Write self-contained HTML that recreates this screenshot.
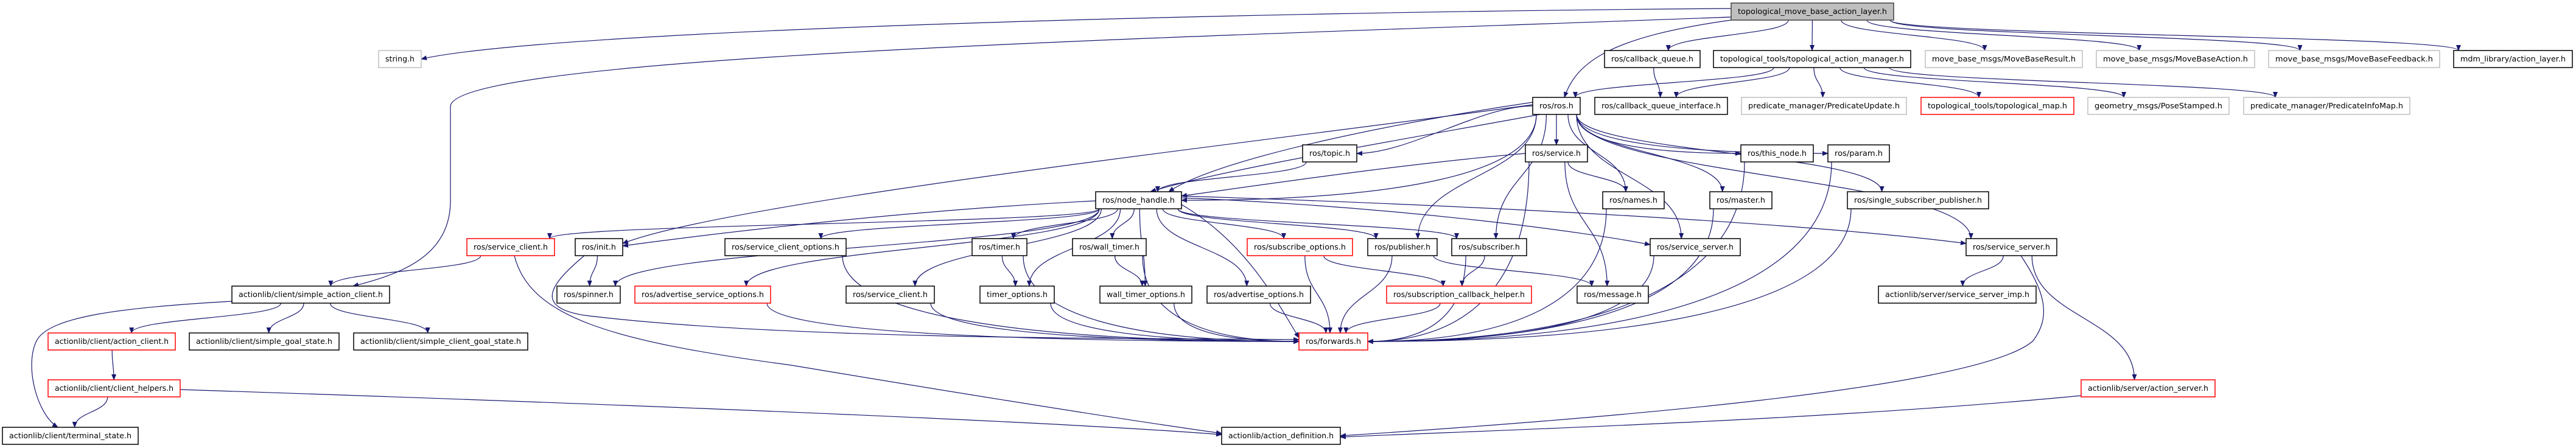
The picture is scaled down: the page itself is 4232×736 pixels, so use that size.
<!DOCTYPE html>
<html><head><meta charset="utf-8"><style>html,body{margin:0;padding:0;background:#fff}svg{display:block}</style></head>
<body>
<svg id="g" width="4232" height="736" viewBox="0 0 4232 736" xmlns="http://www.w3.org/2000/svg" font-family="DejaVu Sans, Liberation Sans, sans-serif" font-size="12">
<defs><marker id="a" markerWidth="10" markerHeight="8" refX="9" refY="4" orient="auto" markerUnits="userSpaceOnUse"><polygon points="0,0 10,4 0,8" fill="#191970"/></marker></defs>
<g id="edges" fill="none" stroke="#191970" stroke-width="1.2"></g>
<g id="nodes" stroke-width="1.5">
<rect x="2844" y="5" width="267" height="28" fill="#bfbfbf" stroke="#404040"/><text x="2977.5" y="23" text-anchor="middle" textLength="245" lengthAdjust="spacingAndGlyphs">topological_move_base_action_layer.h</text>
<rect x="622" y="83" width="70" height="28" fill="#fff" stroke="#bfbfbf"/><text x="657" y="101" text-anchor="middle" textLength="48" lengthAdjust="spacingAndGlyphs">string.h</text>
<rect x="2636" y="83" width="157" height="28" fill="#fff" stroke="#000"/><text x="2714.5" y="101" text-anchor="middle" textLength="135" lengthAdjust="spacingAndGlyphs">ros/callback_queue.h</text>
<rect x="2815" y="83" width="324" height="28" fill="#fff" stroke="#000"/><text x="2977" y="101" text-anchor="middle" textLength="302" lengthAdjust="spacingAndGlyphs">topological_tools/topological_action_manager.h</text>
<rect x="3163" y="83" width="258" height="28" fill="#fff" stroke="#bfbfbf"/><text x="3292" y="101" text-anchor="middle" textLength="236" lengthAdjust="spacingAndGlyphs">move_base_msgs/MoveBaseResult.h</text>
<rect x="3444" y="83" width="260" height="28" fill="#fff" stroke="#bfbfbf"/><text x="3574" y="101" text-anchor="middle" textLength="238" lengthAdjust="spacingAndGlyphs">move_base_msgs/MoveBaseAction.h</text>
<rect x="3727" y="83" width="281" height="28" fill="#fff" stroke="#bfbfbf"/><text x="3867.5" y="101" text-anchor="middle" textLength="259" lengthAdjust="spacingAndGlyphs">move_base_msgs/MoveBaseFeedback.h</text>
<rect x="4031" y="83" width="195" height="28" fill="#fff" stroke="#000"/><text x="4128.5" y="101" text-anchor="middle" textLength="173" lengthAdjust="spacingAndGlyphs">mdm_library/action_layer.h</text>
<rect x="2518" y="160" width="78" height="28" fill="#fff" stroke="#000"/><text x="2557" y="178" text-anchor="middle" textLength="56" lengthAdjust="spacingAndGlyphs">ros/ros.h</text>
<rect x="2620" y="160" width="218" height="28" fill="#fff" stroke="#000"/><text x="2729" y="178" text-anchor="middle" textLength="196" lengthAdjust="spacingAndGlyphs">ros/callback_queue_interface.h</text>
<rect x="2861" y="160" width="271" height="28" fill="#fff" stroke="#bfbfbf"/><text x="2996.5" y="178" text-anchor="middle" textLength="249" lengthAdjust="spacingAndGlyphs">predicate_manager/PredicateUpdate.h</text>
<rect x="3156" y="160" width="251" height="28" fill="#fff" stroke="#ff0000"/><text x="3281.5" y="178" text-anchor="middle" textLength="229" lengthAdjust="spacingAndGlyphs">topological_tools/topological_map.h</text>
<rect x="3430" y="160" width="232" height="28" fill="#fff" stroke="#bfbfbf"/><text x="3546" y="178" text-anchor="middle" textLength="210" lengthAdjust="spacingAndGlyphs">geometry_msgs/PoseStamped.h</text>
<rect x="3686" y="160" width="273" height="28" fill="#fff" stroke="#bfbfbf"/><text x="3822.5" y="178" text-anchor="middle" textLength="251" lengthAdjust="spacingAndGlyphs">predicate_manager/PredicateInfoMap.h</text>
<rect x="2140" y="238" width="89" height="28" fill="#fff" stroke="#000"/><text x="2184.5" y="256" text-anchor="middle" textLength="67" lengthAdjust="spacingAndGlyphs">ros/topic.h</text>
<rect x="2506" y="238" width="102" height="28" fill="#fff" stroke="#000"/><text x="2557" y="256" text-anchor="middle" textLength="80" lengthAdjust="spacingAndGlyphs">ros/service.h</text>
<rect x="2860" y="238" width="119" height="28" fill="#fff" stroke="#000"/><text x="2919.5" y="256" text-anchor="middle" textLength="97" lengthAdjust="spacingAndGlyphs">ros/this_node.h</text>
<rect x="3003" y="238" width="101" height="28" fill="#fff" stroke="#000"/><text x="3053.5" y="256" text-anchor="middle" textLength="79" lengthAdjust="spacingAndGlyphs">ros/param.h</text>
<rect x="1800" y="315" width="141" height="28" fill="#fff" stroke="#000"/><text x="1870.5" y="333" text-anchor="middle" textLength="119" lengthAdjust="spacingAndGlyphs">ros/node_handle.h</text>
<rect x="2633" y="315" width="101" height="28" fill="#fff" stroke="#000"/><text x="2683.5" y="333" text-anchor="middle" textLength="79" lengthAdjust="spacingAndGlyphs">ros/names.h</text>
<rect x="2809" y="315" width="102" height="28" fill="#fff" stroke="#000"/><text x="2860" y="333" text-anchor="middle" textLength="80" lengthAdjust="spacingAndGlyphs">ros/master.h</text>
<rect x="3035" y="315" width="232" height="28" fill="#fff" stroke="#000"/><text x="3151" y="333" text-anchor="middle" textLength="210" lengthAdjust="spacingAndGlyphs">ros/single_subscriber_publisher.h</text>
<rect x="767" y="392" width="144" height="28" fill="#fff" stroke="#ff0000"/><text x="839" y="410" text-anchor="middle" textLength="122" lengthAdjust="spacingAndGlyphs">ros/service_client.h</text>
<rect x="945" y="392" width="78" height="28" fill="#fff" stroke="#000"/><text x="984" y="410" text-anchor="middle" textLength="56" lengthAdjust="spacingAndGlyphs">ros/init.h</text>
<rect x="1191" y="392" width="199" height="28" fill="#fff" stroke="#000"/><text x="1290.5" y="410" text-anchor="middle" textLength="177" lengthAdjust="spacingAndGlyphs">ros/service_client_options.h</text>
<rect x="1597" y="392" width="90" height="28" fill="#fff" stroke="#000"/><text x="1642" y="410" text-anchor="middle" textLength="68" lengthAdjust="spacingAndGlyphs">ros/timer.h</text>
<rect x="1762" y="392" width="121" height="28" fill="#fff" stroke="#000"/><text x="1822.5" y="410" text-anchor="middle" textLength="99" lengthAdjust="spacingAndGlyphs">ros/wall_timer.h</text>
<rect x="2049" y="392" width="173" height="28" fill="#fff" stroke="#ff0000"/><text x="2135.5" y="410" text-anchor="middle" textLength="151" lengthAdjust="spacingAndGlyphs">ros/subscribe_options.h</text>
<rect x="2247" y="392" width="114" height="28" fill="#fff" stroke="#000"/><text x="2304" y="410" text-anchor="middle" textLength="92" lengthAdjust="spacingAndGlyphs">ros/publisher.h</text>
<rect x="2385" y="392" width="123" height="28" fill="#fff" stroke="#000"/><text x="2446.5" y="410" text-anchor="middle" textLength="101" lengthAdjust="spacingAndGlyphs">ros/subscriber.h</text>
<rect x="2711" y="392" width="148" height="28" fill="#fff" stroke="#000"/><text x="2785" y="410" text-anchor="middle" textLength="126" lengthAdjust="spacingAndGlyphs">ros/service_server.h</text>
<rect x="3230" y="392" width="149" height="28" fill="#fff" stroke="#000"/><text x="3304.5" y="410" text-anchor="middle" textLength="127" lengthAdjust="spacingAndGlyphs">ros/service_server.h</text>
<rect x="381" y="470" width="259" height="28" fill="#fff" stroke="#000"/><text x="510.5" y="488" text-anchor="middle" textLength="237" lengthAdjust="spacingAndGlyphs">actionlib/client/simple_action_client.h</text>
<rect x="915" y="470" width="104" height="28" fill="#fff" stroke="#000"/><text x="967" y="488" text-anchor="middle" textLength="82" lengthAdjust="spacingAndGlyphs">ros/spinner.h</text>
<rect x="1043" y="470" width="223" height="28" fill="#fff" stroke="#ff0000"/><text x="1154.5" y="488" text-anchor="middle" textLength="201" lengthAdjust="spacingAndGlyphs">ros/advertise_service_options.h</text>
<rect x="1390" y="470" width="145" height="28" fill="#fff" stroke="#000"/><text x="1462.5" y="488" text-anchor="middle" textLength="123" lengthAdjust="spacingAndGlyphs">ros/service_client.h</text>
<rect x="1610" y="470" width="122" height="28" fill="#fff" stroke="#000"/><text x="1671" y="488" text-anchor="middle" textLength="100" lengthAdjust="spacingAndGlyphs">timer_options.h</text>
<rect x="1807" y="470" width="151" height="28" fill="#fff" stroke="#000"/><text x="1882.5" y="488" text-anchor="middle" textLength="129" lengthAdjust="spacingAndGlyphs">wall_timer_options.h</text>
<rect x="1983" y="470" width="170" height="28" fill="#fff" stroke="#000"/><text x="2068" y="488" text-anchor="middle" textLength="148" lengthAdjust="spacingAndGlyphs">ros/advertise_options.h</text>
<rect x="2278" y="470" width="238" height="28" fill="#fff" stroke="#ff0000"/><text x="2397" y="488" text-anchor="middle" textLength="216" lengthAdjust="spacingAndGlyphs">ros/subscription_callback_helper.h</text>
<rect x="2591" y="470" width="117" height="28" fill="#fff" stroke="#000"/><text x="2649.5" y="488" text-anchor="middle" textLength="95" lengthAdjust="spacingAndGlyphs">ros/message.h</text>
<rect x="3086" y="470" width="259" height="28" fill="#fff" stroke="#000"/><text x="3215.5" y="488" text-anchor="middle" textLength="237" lengthAdjust="spacingAndGlyphs">actionlib/server/service_server_imp.h</text>
<rect x="79" y="547" width="209" height="28" fill="#fff" stroke="#ff0000"/><text x="183.5" y="565" text-anchor="middle" textLength="187" lengthAdjust="spacingAndGlyphs">actionlib/client/action_client.h</text>
<rect x="311" y="547" width="246" height="28" fill="#fff" stroke="#000"/><text x="434" y="565" text-anchor="middle" textLength="224" lengthAdjust="spacingAndGlyphs">actionlib/client/simple_goal_state.h</text>
<rect x="581" y="547" width="286" height="28" fill="#fff" stroke="#000"/><text x="724" y="565" text-anchor="middle" textLength="264" lengthAdjust="spacingAndGlyphs">actionlib/client/simple_client_goal_state.h</text>
<rect x="2134" y="547" width="113" height="28" fill="#fff" stroke="#ff0000"/><text x="2190.5" y="565" text-anchor="middle" textLength="91" lengthAdjust="spacingAndGlyphs">ros/forwards.h</text>
<rect x="79" y="624" width="217" height="28" fill="#fff" stroke="#ff0000"/><text x="187.5" y="642" text-anchor="middle" textLength="195" lengthAdjust="spacingAndGlyphs">actionlib/client/client_helpers.h</text>
<rect x="3419" y="624" width="220" height="28" fill="#fff" stroke="#ff0000"/><text x="3529" y="642" text-anchor="middle" textLength="198" lengthAdjust="spacingAndGlyphs">actionlib/server/action_server.h</text>
<rect x="4" y="702" width="223" height="28" fill="#fff" stroke="#000"/><text x="115.5" y="720" text-anchor="middle" textLength="201" lengthAdjust="spacingAndGlyphs">actionlib/client/terminal_state.h</text>
<rect x="2007" y="702" width="195" height="28" fill="#fff" stroke="#000"/><text x="2104.5" y="720" text-anchor="middle" textLength="173" lengthAdjust="spacingAndGlyphs">actionlib/action_definition.h</text>
</g>
</svg>
<script>
(function(){
var N={top:[2844,3111,0],string:[622,692,1],cbq:[2636,2793,1],tam:[2815,3139,1],mbr:[3163,3421,1],mba:[3444,3704,1],mbf:[3727,4008,1],mdm:[4031,4226,1],
ros:[2518,2596,2],cbqi:[2620,2838,2],pu:[2861,3132,2],tmap:[3156,3407,2],pose:[3430,3662,2],pim:[3686,3959,2],
topic:[2140,2229,3],service:[2506,2608,3],thisnode:[2860,2979,3],param:[3003,3104,3],
nh:[1800,1941,4],names:[2633,2734,4],master:[2809,2911,4],ssp:[3035,3267,4],
scR:[767,911,5],init:[945,1023,5],sco:[1191,1390,5],timer:[1597,1687,5],wtimer:[1762,1883,5],subo:[2049,2222,5],pub:[2247,2361,5],sub:[2385,2508,5],ss1:[2711,2859,5],ss2:[3230,3379,5],
sac:[381,640,6],spin:[915,1019,6],aso:[1043,1266,6],sc:[1390,1535,6],topt:[1610,1732,6],wto:[1807,1958,6],ao:[1983,2153,6],sch:[2278,2516,6],msg:[2591,2708,6],ssi:[3086,3345,6],
ac:[79,288,7],sgs:[311,557,7],scgs:[581,867,7],fwd:[2134,2247,7],ch:[79,296,8],as:[3419,3639,8],ts:[4,227,9],ad:[2007,2202,9]};
var RT=[5,83,160,238,315,392,470,547,624,702];
function rowTop(n){return RT[N[n][2]];}
function cx(n){return (N[n][0]+N[n][1])/2;}
var P=[];
function e(s,t,side){
 var a=N[s],b=N[t],sy=rowTop(s)+28,ty=rowTop(t),sx,tx;
 var dx=cx(t)-cx(s);
 sx=cx(s)+Math.max(-(a[1]-a[0])/2+6,Math.min((a[1]-a[0])/2-6,dx*0.15));
 if(side===1){
   var ym=ty+14;
   if(dx>0){tx=b[0];}else{tx=b[1];}
   P.push('M'+sx+','+sy+' C'+sx+','+(sy+(ym-sy)*0.7)+' '+(sx+(tx-sx)*0.4)+','+ym+' '+tx+','+ym);
 } else {
   tx=cx(t)+Math.max(-(b[1]-b[0])/2+8,Math.min((b[1]-b[0])/2-8,-dx*0.1));
   var my=(sy+ty)/2;
   P.push('M'+sx+','+sy+' C'+sx+','+my+' '+tx+','+my+' '+tx+','+ty);
 }
}
function h(s,t){ /* horizontal-ish: from source side to target side */
 var a=N[s],b=N[t],sy=rowTop(s)+14,ty=rowTop(t)+14,sx,tx;
 if(cx(t)<cx(s)){sx=a[0];tx=b[1];}else{sx=a[1];tx=b[0];}
 P.push('M'+sx+','+sy+' C'+(sx+(tx-sx)*0.3)+','+sy+' '+(sx+(tx-sx)*0.7)+','+ty+' '+tx+','+ty);
}
P.push('M2844,14 C2000,20 900,50 692,97');
P.push('M2844,28 C2000,60 740,90 740,175 L740,330 C740,420 660,450 580,470');
P.push('M2844,33 C2650,60 2590,100 2570,160');
['cbq','tam','mbr','mba','mbf','mdm'].forEach(function(t){e('top',t,0);});
['ros','cbqi','pu','tmap','pose','pim'].forEach(function(t){e('tam',t,0);});
e('cbq','cbqi',0);
e('ros','nh',1);h('ros','topic');e('ros','service',0);e('ros','names',0);e('ros','thisnode',1);e('ros','param',1);
e('ros','master',0);e('ros','ssp',0);e('ros','pub',0);e('ros','sub',0);e('ros','ss1',0);e('ros','ss2',0);
P.push('M2518,172 C2100,230 1200,330 1023,400');
P.push('M2518,168 C2300,200 2000,260 1920,315');P.push('M2530,188 C2300,230 2000,280 1890,315');
e('topic','nh',0);P.push('M2506,252 C2300,270 2100,300 1941,322');e('service','names',0);e('service','msg',0);e('service','fwd',1);
e('nh','scR',0);P.push('M1800,330 C1500,345 1200,380 1023,404');e('nh','spin',0);e('nh','aso',0);e('nh','sco',0);e('nh','sc',0);
['timer','topt','wtimer','wto','ao','subo','pub','sub'].forEach(function(t){e('nh',t,0);});
P.push('M1941,325 C2300,340 2600,380 2711,402');P.push('M1941,322 C2500,340 3000,370 3230,400');P.push('M1941,336 C2050,400 2100,500 2134,555');
e('scR','sac',0);P.push('M845,420 C870,520 1000,560 1300,600 C1600,650 1850,690 2007,712');
e('init','spin',0);P.push('M960,420 C900,470 880,505 960,518 C1300,560 1900,555 2134,558');
['ac','sgs','scgs'].forEach(function(t){e('sac',t,0);});
P.push('M381,495 C200,505 80,520 60,560 C40,600 60,680 95,702');
e('ac','ch',0);e('ch','ts',0);P.push('M296,640 C900,660 1700,690 2007,714');
['aso','sco','sc','timer','wtimer','topt','wto','ss1','names','master','thisnode','param','ssp','sub'].forEach(function(t){e(t,'fwd',1);});
['ao','subo','pub','sch'].forEach(function(t){e(t,'fwd',0);});
e('timer','topt',0);e('wtimer','wto',0);e('subo','sch',0);e('pub','msg',0);e('sub','sch',0);
e('ss2','ssi',0);e('ss2','as',0);P.push('M3320,420 C3360,480 3370,520 3340,560 C3250,640 2600,690 2202,716');
P.push('M3419,650 C3000,690 2500,705 2202,718');
var g=document.getElementById('edges');
var ns='http://www.w3.org/2000/svg';
P.forEach(function(d){var p=document.createElementNS(ns,'path');p.setAttribute('d',d);p.setAttribute('marker-end','url(#a)');g.appendChild(p);});
})();
</script>
</body></html>
